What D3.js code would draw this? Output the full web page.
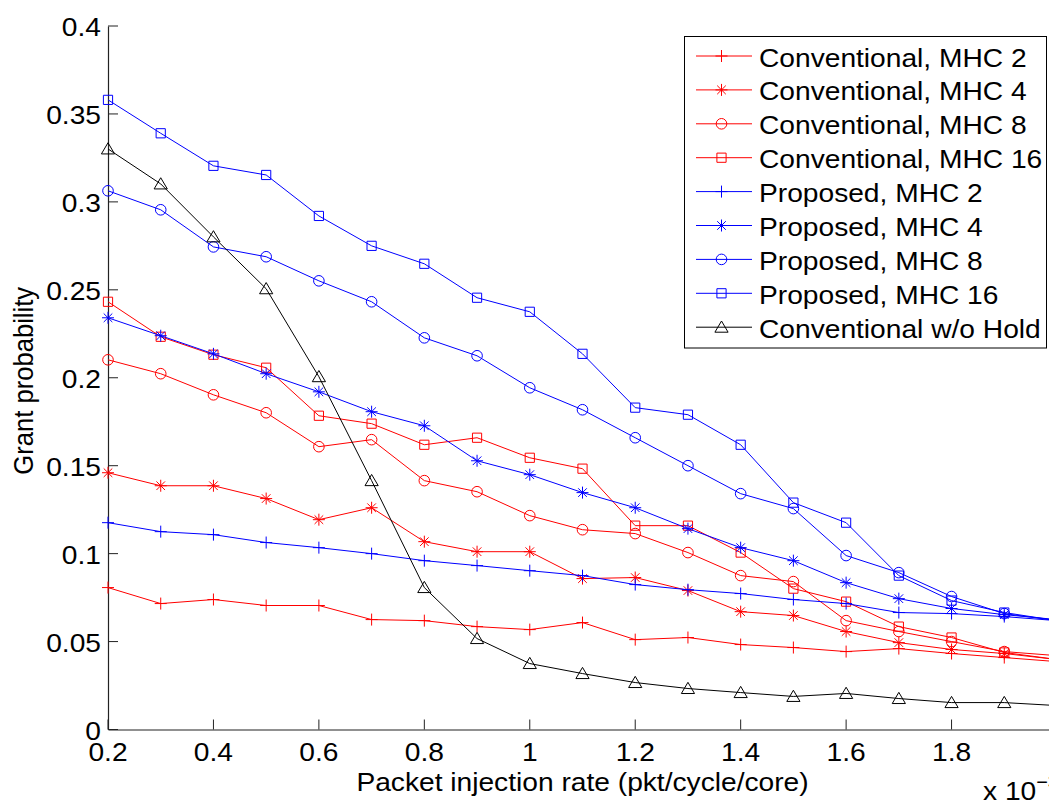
<!DOCTYPE html>
<html><head><meta charset="utf-8">
<script src="https://cdn.jsdelivr.net/npm/d3@7"></script>
<style>html,body{margin:0;padding:0;background:#fff;} svg{display:block;}</style>
</head><body>
<svg id="chart" width="1049" height="806"></svg>
<script>
// ---- Data ----
const xValues = [0.2,0.3,0.4,0.5,0.6,0.7,0.8,0.9,1.0,1.1,1.2,1.3,1.4,1.5,1.6,1.7,1.8,1.9,2.0];

const convMHC2  = [0.0807,0.0716,0.0739,0.0705,0.0705,0.0625,0.0619,0.0585,0.0568,0.0608,0.0511,0.0523,0.0483,0.0466,0.0443,0.0460,0.0432,0.0409,0.0386];
const convMHC4  = [0.1460,0.1386,0.1386,0.1313,0.1193,0.1261,0.1068,0.1011,0.1011,0.0858,0.0864,0.0790,0.0670,0.0648,0.0557,0.0494,0.0455,0.0432,0.0398];
const convMHC8  = [0.2102,0.2023,0.1903,0.1801,0.1608,0.1648,0.1415,0.1352,0.1216,0.1136,0.1114,0.1006,0.0875,0.0841,0.0619,0.0557,0.0500,0.0443,0.0420];
const convMHC16 = [0.2432,0.2233,0.2131,0.2057,0.1784,0.1739,0.1619,0.1659,0.1545,0.1483,0.1159,0.1159,0.1006,0.0801,0.0727,0.0585,0.0523,0.0438,0.0398];
const propMHC2  = [0.1176,0.1125,0.1108,0.1063,0.1034,0.1000,0.0960,0.0932,0.0903,0.0875,0.0824,0.0795,0.0773,0.0739,0.0716,0.0665,0.0659,0.0642,0.0619];
const propMHC4  = [0.2341,0.2239,0.2136,0.2023,0.1920,0.1807,0.1727,0.1528,0.1449,0.1347,0.1261,0.1142,0.1034,0.0960,0.0835,0.0744,0.0688,0.0653,0.0625];
const propMHC8  = [0.3063,0.2955,0.2744,0.2688,0.2551,0.2432,0.2227,0.2125,0.1943,0.1818,0.1659,0.1500,0.1341,0.1256,0.0989,0.0892,0.0756,0.0659,0.0619];
const propMHC16 = [0.3580,0.3390,0.3205,0.3153,0.2920,0.2750,0.2648,0.2455,0.2375,0.2136,0.1830,0.1790,0.1619,0.1290,0.1176,0.0875,0.0733,0.0665,0.0619];
const convNoHold= [0.3301,0.3102,0.2801,0.2506,0.2006,0.1415,0.0807,0.0517,0.0375,0.0318,0.0267,0.0233,0.0210,0.0188,0.0205,0.0176,0.0153,0.0153,0.0136];

const seriesNames = ["Conventional, MHC 2","Conventional, MHC 4","Conventional, MHC 8","Conventional, MHC 16",
                     "Proposed, MHC 2","Proposed, MHC 4","Proposed, MHC 8","Proposed, MHC 16","Conventional w/o Hold"];
const seriesValues = [convMHC2,convMHC4,convMHC8,convMHC16,propMHC2,propMHC4,propMHC8,propMHC16,convNoHold];
const seriesColors = ["#ff0000","#ff0000","#ff0000","#ff0000","#0000ff","#0000ff","#0000ff","#0000ff","#000000"];
const seriesMarkers = ["plus","star","circle","square","plus","star","circle","square","triangle"];

const xTickValues = [0.2,0.4,0.6,0.8,1.0,1.2,1.4,1.6,1.8];
const xTickLabels = ["0.2","0.4","0.6","0.8","1","1.2","1.4","1.6","1.8"];
const yTickValues = [0,0.05,0.1,0.15,0.2,0.25,0.3,0.35,0.4];
const yTickLabels = ["0","0.05","0.1","0.15","0.2","0.25","0.3","0.35","0.4"];

const xLabel = "Packet injection rate (pkt/cycle/core)";
const yLabel = "Grant probability";

// ---- Layout ----
const svg = d3.select("#chart");
const FONT = "'Liberation Sans', Arial, Helvetica, sans-serif";
const FS = 25.6;
const SX = 1.1;
const pLeft = 108, pRight = 1057, pTop = 26, pBottom = 729.5;

const x = d3.scaleLinear().domain([0.2, 2.0]).range([pLeft, pRight]);
const y = d3.scaleLinear().domain([0, 0.4]).range([pBottom, pTop]);

function txt(g, px, py, str, anchor) {
  return g.append("text")
    .attr("transform", `translate(${px},${py}) scale(${SX},1)`)
    .attr("text-anchor", anchor)
    .attr("font-family", FONT)
    .attr("font-size", FS)
    .attr("fill", "#000")
    .text(str);
}

function markerPath(type, cx, cy) {
  const p = d3.path();
  if (type === "plus") {
    p.moveTo(cx - 6, cy); p.lineTo(cx + 6, cy);
    p.moveTo(cx, cy - 6); p.lineTo(cx, cy + 6);
  } else if (type === "star") {
    p.moveTo(cx - 6, cy); p.lineTo(cx + 6, cy);
    p.moveTo(cx, cy - 6); p.lineTo(cx, cy + 6);
    p.moveTo(cx - 4.3, cy - 4.3); p.lineTo(cx + 4.3, cy + 4.3);
    p.moveTo(cx - 4.3, cy + 4.3); p.lineTo(cx + 4.3, cy - 4.3);
  } else if (type === "circle") {
    p.moveTo(cx + 5.3, cy); p.arc(cx, cy, 5.3, 0, 2 * Math.PI);
  } else if (type === "square") {
    p.rect(cx - 4.6, cy - 4.6, 9.2, 9.2);
  } else if (type === "triangle") {
    p.moveTo(cx, cy - 6.2); p.lineTo(cx + 6.6, cy + 5); p.lineTo(cx - 6.6, cy + 5); p.closePath();
  }
  return p.toString();
}

// ---- Axes ----
const axes = svg.append("g");
const yAxis = d3.axisLeft(y).tickValues(yTickValues).tickSize(0).tickFormat("");
axes.append("g").attr("transform", `translate(${pLeft},0)`).call(yAxis)
  .call(g => g.select(".domain").attr("stroke", "#222").attr("stroke-width", 1.2));
const xAxis = d3.axisBottom(x).tickValues(xTickValues).tickSize(0).tickFormat("");
axes.append("g").attr("transform", `translate(0,${pBottom})`).call(xAxis)
  .call(g => g.select(".domain").attr("stroke", "#222").attr("stroke-width", 1.2));

// inward ticks
axes.append("g").selectAll("line").data(yTickValues).enter().append("line")
  .attr("x1", pLeft).attr("x2", pLeft + 10)
  .attr("y1", d => y(d)).attr("y2", d => y(d))
  .attr("stroke", "#222").attr("stroke-width", 1);
axes.append("g").selectAll("line").data(xTickValues).enter().append("line")
  .attr("x1", d => x(d)).attr("x2", d => x(d))
  .attr("y1", pBottom).attr("y2", pBottom - 10)
  .attr("stroke", "#222").attr("stroke-width", 1);

// tick labels
yTickValues.forEach((v, i) => txt(axes, 101, y(v) + 10, yTickLabels[i], "end"));
xTickValues.forEach((v, i) => txt(axes, x(v), 761, xTickLabels[i], "middle"));

// axis labels
txt(axes, (pLeft + pRight) / 2, 791, xLabel, "middle");
axes.append("text")
  .attr("transform", `translate(33,${(pTop + pBottom) / 2 + 3}) rotate(-90) scale(1,${SX})`)
  .attr("text-anchor", "middle")
  .attr("font-family", FONT).attr("font-size", FS).attr("fill", "#000")
  .text(yLabel);

// exponent
const ex = axes.append("text")
  .attr("transform", `translate(983,800) scale(${SX},1)`)
  .attr("font-family", FONT).attr("font-size", FS).attr("fill", "#000");
ex.append("tspan").text("x 10");
ex.append("tspan").attr("dy", -12).attr("font-size", 18).text("\u22123");

// ---- Series ----
const plot = svg.append("g");
const line = d3.line().x((d, i) => x(xValues[i])).y(d => y(d));
seriesValues.forEach((vals, s) => {
  plot.append("path")
    .attr("d", line(vals))
    .attr("fill", "none")
    .attr("stroke", seriesColors[s])
    .attr("stroke-width", 1);
  plot.append("g").selectAll("path").data(vals).enter().append("path")
    .attr("d", (d, i) => markerPath(seriesMarkers[s], x(xValues[i]), y(d)))
    .attr("fill", "none")
    .attr("stroke", seriesColors[s])
    .attr("stroke-width", 1);
});

// ---- Legend ----
const lg = svg.append("g");
lg.append("rect").attr("x", 684.5).attr("y", 36.5).attr("width", 362).attr("height", 311.5)
  .attr("fill", "#fff").attr("stroke", "#000").attr("stroke-width", 1);
seriesNames.forEach((name, s) => {
  const ry = 56 + s * 33.9;
  lg.append("line").attr("x1", 696).attr("x2", 752).attr("y1", ry).attr("y2", ry)
    .attr("stroke", seriesColors[s]).attr("stroke-width", 1);
  lg.append("path").attr("d", markerPath(seriesMarkers[s], 721.5, ry))
    .attr("fill", "none").attr("stroke", seriesColors[s]).attr("stroke-width", 1);
  txt(lg, 759, ry + 10.5, name, "start");
});
</script>
</body></html>
